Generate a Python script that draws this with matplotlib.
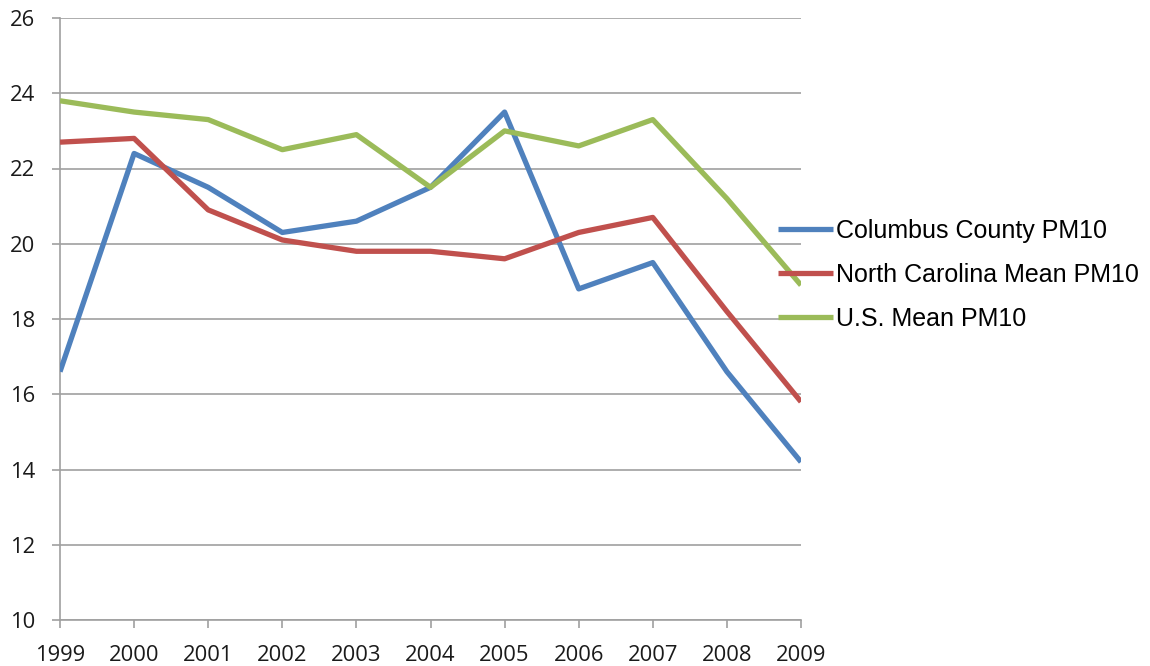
import matplotlib.pyplot as plt

years = list(range(1999, 2010))
columbus = [16.6, 22.4, 21.5, 20.3, 20.6, 21.5, 23.5, 18.8, 19.5, 16.6, 14.2]
nc_mean = [22.7, 22.8, 20.9, 20.1, 19.8, 19.8, 19.6, 20.3, 20.7, 18.2, 15.8]
us_mean = [23.8, 23.5, 23.3, 22.5, 22.9, 21.5, 23.0, 22.6, 23.3, 21.2, 18.9]

labels = ['Columbus County PM10', 'North Carolina Mean PM10', 'U.S. Mean PM10']
colors = ['#4F81BD', '#C0504D', '#9BBB59']
GRID = '#A0A0A0'

fig = plt.figure(figsize=(11.5, 6.66), dpi=100)
ax = fig.add_axes([60 / 1150, 46 / 666, 741 / 1150, 602 / 666])

for vals, lab, col in zip([columbus, nc_mean, us_mean], labels, colors):
    ax.plot(years, vals, color=col, linewidth=3.8, label=lab,
            solid_joinstyle='round', solid_capstyle='butt', zorder=3)

ax.set_xlim(1999, 2009)
ax.set_ylim(10, 26)
ax.set_yticks(range(10, 27, 2))
ax.set_xticks(years)
ax.grid(axis='y', color=GRID, linewidth=1.2)
ax.set_axisbelow(True)

for s in ['top', 'right']:
    ax.spines[s].set_visible(False)
for s in ['left', 'bottom']:
    ax.spines[s].set_color(GRID)
    ax.spines[s].set_linewidth(1.2)

ax.tick_params(axis='both', direction='out', color=GRID, width=1.2, length=6,
               labelsize=15.8, labelcolor='#1a1a1a')
ax.tick_params(axis='y', pad=12)
ax.tick_params(axis='x', pad=12)
for t in ax.get_xticklabels() + ax.get_yticklabels():
    t.set_fontfamily('Open Sans')

fig.legend(loc='center left', bbox_to_anchor=(778 / 1150, (666 - 275) / 666),
           frameon=False, borderpad=0, borderaxespad=0,
           handlelength=2.2, handletextpad=0.12, labelspacing=0.8,
           prop={'family': 'Liberation Sans', 'size': 18})

fig.savefig('out.png', dpi=100, facecolor='white')
